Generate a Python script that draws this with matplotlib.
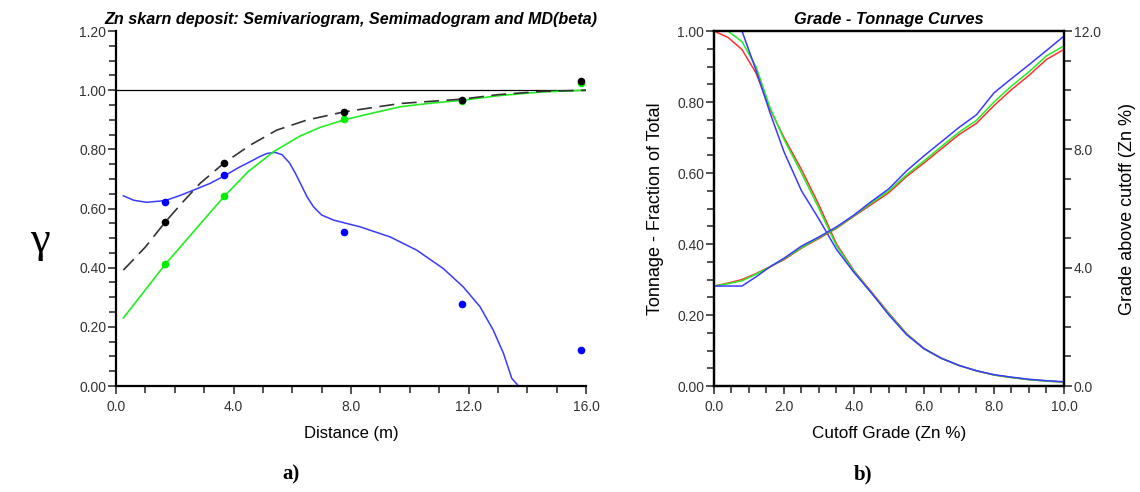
import matplotlib
matplotlib.use("Agg")
import matplotlib.pyplot as plt
from matplotlib.ticker import MultipleLocator, FormatStrFormatter

plt.rcParams['font.family'] = ['Liberation Sans', 'DejaVu Sans']

# ---- panel a: experimental points ----
lag = [1.68, 3.68, 7.77, 11.79, 15.84]
semivar_pts = [0.555, 0.754, 0.927, 0.968, 1.03]
madogram_pts = [0.412, 0.641, 0.901, 0.965, 1.025]
md_pts = [0.621, 0.713, 0.521, 0.277, 0.122]

# ---- panel a: fitted models ----
semivar_h = [0.25, 1.0, 1.68, 2.3, 2.86, 3.68, 4.56, 5.47, 6.49, 7.77, 9.67, 11.79, 13.0, 14.5, 16.0]
semivar_g = [0.392, 0.47, 0.555, 0.625, 0.685, 0.754, 0.814, 0.865, 0.899, 0.927, 0.955, 0.97, 0.985, 0.996, 1.0]

madogram_h = [0.25, 1.68, 3.68, 4.5, 5.36, 6.26, 6.94, 7.77, 8.7, 9.67, 10.7, 11.79, 13.07, 14.5, 16.0]
madogram_g = [0.23, 0.412, 0.641, 0.725, 0.792, 0.845, 0.874, 0.90, 0.922, 0.944, 0.956, 0.966, 0.982, 0.994, 1.0]

md_h = [0.25, 0.6, 1.04, 1.68, 2.2, 2.63, 3.2, 3.68, 4.2, 4.56, 4.9, 5.13, 5.41, 5.65, 5.9, 6.1, 6.3,
        6.5, 6.72, 7.0, 7.4, 8.31, 9.33, 10.24, 11.14, 11.82, 12.39, 12.84, 13.19, 13.47, 13.7, 16.0]
md_g = [0.643, 0.628, 0.621, 0.627, 0.645, 0.662, 0.685, 0.71, 0.74, 0.758, 0.776, 0.786, 0.79, 0.782, 0.755, 0.72, 0.68,
        0.64, 0.606, 0.578, 0.561, 0.538, 0.504, 0.459, 0.397, 0.335, 0.268, 0.189, 0.11, 0.026, 0.0, 0.0]

# ---- panel b: grade - tonnage ----
cutoff = [0.0, 0.4, 0.8, 1.2, 1.6, 2.0, 2.5, 3.0, 3.5, 4.0, 4.5, 5.0, 5.5,
          6.0, 6.5, 7.0, 7.5, 8.0, 8.5, 9.0, 9.5, 10.0]
tonnage_red = [1.0, 0.982, 0.948, 0.882, 0.78, 0.70, 0.61, 0.51, 0.40, 0.325, 0.265, 0.205, 0.148,
               0.106, 0.078, 0.058, 0.043, 0.031, 0.024, 0.018, 0.014, 0.011]
tonnage_green = [1.0, 1.0, 0.97, 0.90, 0.785, 0.695, 0.60, 0.50, 0.395, 0.323, 0.263, 0.203, 0.147,
                 0.105, 0.078, 0.058, 0.043, 0.031, 0.024, 0.018, 0.014, 0.011]
tonnage_blue = [1.0, 1.0, 1.0, 0.89, 0.77, 0.66, 0.55, 0.47, 0.385, 0.32, 0.262, 0.20, 0.145,
                0.105, 0.078, 0.058, 0.043, 0.032, 0.025, 0.019, 0.015, 0.012]
grade_red = [3.38, 3.48, 3.60, 3.80, 4.03, 4.27, 4.66, 4.99, 5.33, 5.74, 6.14, 6.54, 7.08,
             7.54, 8.02, 8.50, 8.88, 9.48, 10.02, 10.50, 11.04, 11.38]
grade_green = [3.38, 3.46, 3.56, 3.78, 4.03, 4.30, 4.68, 5.02, 5.35, 5.76, 6.19, 6.60, 7.14,
               7.61, 8.10, 8.58, 8.98, 9.60, 10.14, 10.62, 11.16, 11.50]
grade_blue = [3.38, 3.38, 3.38, 3.69, 4.03, 4.32, 4.73, 5.04, 5.38, 5.78, 6.24, 6.67, 7.27,
              7.78, 8.26, 8.74, 9.17, 9.91, 10.39, 10.86, 11.34, 11.83]

RED, GREEN, BLUE = '#ff3030', '#22ee22', '#3a3aff'
TICK = '#333333'


def style_ticks(ax):
    ax.tick_params(which='both', direction='out', width=1.2, colors=TICK, labelsize=10, pad=1)
    ax.tick_params(which='major', length=6)
    ax.tick_params(which='minor', length=5)


fig = plt.figure(figsize=(11.4, 4.92), dpi=100)

# ================= panel a =================
ax1 = fig.add_axes([0.1018, 0.2154, 0.4123, 0.7215])
ax1.axhline(1.0, color='black', lw=0.9)
ax1.plot(md_h, md_g, color=BLUE, lw=1.1)
ax1.plot(madogram_h, madogram_g, color=GREEN, lw=1.2)
ax1.plot(semivar_h, semivar_g, color='#333333', lw=1.2, dashes=(9, 4.5))
ax1.plot(lag, md_pts, 'o', color='#0000ff', ms=5.5, mec='none')
ax1.plot(lag, madogram_pts, 'o', color='#00ee00', ms=5.5, mec='none')
ax1.plot(lag, semivar_pts, 'o', color='black', ms=5.5, mec='none')

ax1.set_xlim(0, 16)
ax1.set_ylim(0, 1.2)
ax1.xaxis.set_major_locator(MultipleLocator(4))
ax1.xaxis.set_minor_locator(MultipleLocator(1))
ax1.yaxis.set_major_locator(MultipleLocator(0.2))
ax1.yaxis.set_minor_locator(MultipleLocator(0.05))
ax1.xaxis.set_major_formatter(FormatStrFormatter('%.1f'))
ax1.yaxis.set_major_formatter(FormatStrFormatter('%.2f'))
for s in ['top', 'right']:
    ax1.spines[s].set_visible(False)
for s in ['left', 'bottom']:
    ax1.spines[s].set_linewidth(1.6)
style_ticks(ax1)
ax1.tick_params(axis='x', pad=4)
ax1.set_xlabel('Distance (m)', fontsize=12, labelpad=9)
ax1.set_title('Zn skarn deposit: Semivariogram, Semimadogram and MD(beta)',
              fontsize=11.6, fontstyle='italic', fontweight='bold', pad=5)
fig.text(0.035, 0.51, 'γ', family='Liberation Serif', fontsize=32, ha='center', va='center')
fig.text(0.255, 0.035, 'a)', family='Liberation Serif', fontsize=15, fontweight='bold',
         ha='center', va='center')

# ================= panel b =================
ax2 = fig.add_axes([0.6263, 0.2154, 0.307, 0.7215])
ax2.plot(cutoff, tonnage_red, color=RED, lw=1.1)
ax2.plot(cutoff, tonnage_green, color=GREEN, lw=1.1)
ax2.plot(cutoff, tonnage_blue, color=BLUE, lw=1.1)
ax2.set_xlim(0, 10)
ax2.set_ylim(0, 1.0)
ax2.xaxis.set_major_locator(MultipleLocator(2))
ax2.xaxis.set_minor_locator(MultipleLocator(0.5))
ax2.yaxis.set_major_locator(MultipleLocator(0.2))
ax2.yaxis.set_minor_locator(MultipleLocator(0.05))
ax2.xaxis.set_major_formatter(FormatStrFormatter('%.1f'))
ax2.yaxis.set_major_formatter(FormatStrFormatter('%.2f'))
style_ticks(ax2)
ax2.tick_params(axis='x', pad=4)
for s in ax2.spines.values():
    s.set_linewidth(1.6)
ax2.set_xlabel('Cutoff Grade (Zn %)', fontsize=12.3, labelpad=9)
ax2.set_ylabel('Tonnage - Fraction of Total', fontsize=13)
ax2.yaxis.set_label_coords(-0.143, 0.5)
ax2.set_title('Grade - Tonnage Curves', fontsize=11.8, fontstyle='italic', fontweight='bold', pad=5)

ax3 = ax2.twinx()
ax3.plot(cutoff, grade_red, color=RED, lw=1.1)
ax3.plot(cutoff, grade_green, color=GREEN, lw=1.1)
ax3.plot(cutoff, grade_blue, color=BLUE, lw=1.1)
ax3.set_ylim(0, 12)
ax3.yaxis.set_major_locator(MultipleLocator(4))
ax3.yaxis.set_minor_locator(MultipleLocator(1))
ax3.yaxis.set_major_formatter(FormatStrFormatter('%.1f'))
style_ticks(ax3)
for s in ax3.spines.values():
    s.set_linewidth(1.6)
ax3.set_ylabel('Grade above cutoff (Zn %)', fontsize=13)
ax3.yaxis.set_label_coords(1.158, 0.5)
fig.text(0.757, 0.035, 'b)', family='Liberation Serif', fontsize=15, fontweight='bold',
         ha='center', va='center')

fig.savefig('out.png', dpi=100)
